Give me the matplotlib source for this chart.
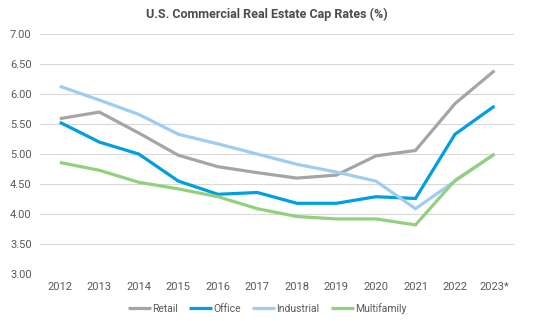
import matplotlib
matplotlib.use("Agg")
import matplotlib.pyplot as plt

years = ["2012", "2013", "2014", "2015", "2016", "2017", "2018", "2019", "2020", "2021", "2022", "2023*"]
retail = [5.59, 5.70, 5.35, 4.98, 4.79, 4.69, 4.60, 4.65, 4.97, 5.06, 5.84, 6.39]
office = [5.53, 5.20, 5.00, 4.55, 4.33, 4.36, 4.18, 4.18, 4.29, 4.26, 5.33, 5.80]
industrial = [6.13, 5.90, 5.66, 5.33, 5.17, 5.00, 4.83, 4.70, 4.55, 4.09, 4.55, 5.00]
multifamily = [4.86, 4.73, 4.53, 4.42, 4.29, 4.09, 3.96, 3.92, 3.92, 3.82, 4.56, 5.00]

series = [("Retail", retail, "#A5A5A5"),
          ("Office", office, "#009FDF"),
          ("Industrial", industrial, "#9DCDF0"),
          ("Multifamily", multifamily, "#93D07E")]

plt.rcParams['font.family'] = ['Roboto', 'DejaVu Sans']
fig = plt.figure(figsize=(5.34, 3.21), dpi=100)
ax = fig.add_axes([0.075, 0.146, 0.888, 0.748])

x = list(range(len(years)))
for name, vals, col in series:
    ax.plot(x, vals, color=col, lw=2.3, label=name, solid_capstyle='butt', solid_joinstyle='miter')

ax.set_xlim(-0.5, len(years) - 0.5)
ax.set_ylim(3.0, 7.0)
yt = [3.0, 3.5, 4.0, 4.5, 5.0, 5.5, 6.0, 6.5, 7.0]
ax.set_yticks(yt)
ax.set_yticklabels([f"{v:.2f}" for v in yt])
ax.set_xticks(x)
ax.set_xticklabels(years)
ax.tick_params(axis='both', length=0, labelsize=8, colors="#595959")
ax.tick_params(axis='x', pad=6)
ax.tick_params(axis='y', pad=6)
ax.grid(axis='y', color="#D9D9D9", lw=0.8)
ax.set_axisbelow(True)
for s in ax.spines.values():
    s.set_visible(False)

fig.text(0.5, 0.955, "U.S. Commercial Real Estate Cap Rates (%)", ha='center', va='center',
         fontsize=9, fontweight='bold', color="#4D4D4D")

leg = fig.legend(loc='center', bbox_to_anchor=(0.5, 0.04), ncol=4, frameon=False,
                 fontsize=7.5, handlelength=2.2, handletextpad=0.1, columnspacing=1.1)
for t in leg.get_texts():
    t.set_color("#595959")

fig.savefig("out.png", dpi=100)
